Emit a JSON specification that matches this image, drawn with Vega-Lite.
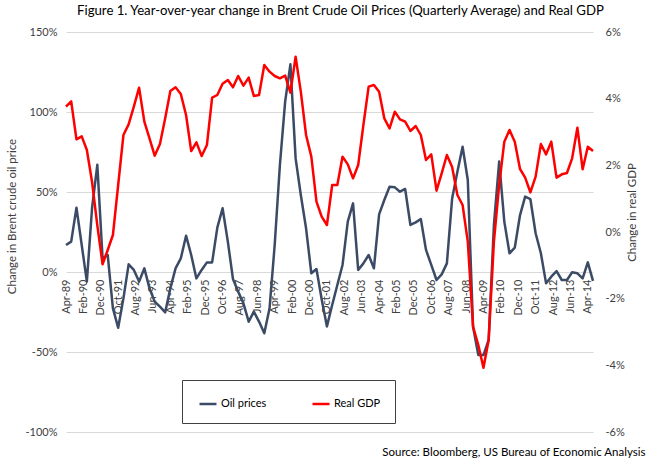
{
  "$schema": "https://vega.github.io/schema/vega-lite/v6.json",
  "width": 527,
  "height": 400,
  "autosize": "none",
  "padding": {"left": 66, "top": 32, "right": 55, "bottom": 26},
  "background": "white",
  "title": {
    "text": "Figure 1. Year-over-year change in Brent Crude Oil Prices (Quarterly Average) and Real GDP",
    "font": "Lato",
    "fontSize": 13.2,
    "fontWeight": "normal",
    "color": "#000000",
    "anchor": "middle",
    "offset": 8,
    "dx": 11
  },
  "config": {
    "view": {"stroke": null},
    "font": "Lato"
  },
  "data": {
    "values": [
      {"date": "1989/04/01", "oil": 16.9, "gdp": 3.76},
      {"date": "1989/07/01", "oil": 19, "gdp": 3.92},
      {"date": "1989/10/01", "oil": 40.2, "gdp": 2.78},
      {"date": "1990/01/01", "oil": 16.9, "gdp": 2.87},
      {"date": "1990/04/01", "oil": -6, "gdp": 2.46},
      {"date": "1990/07/01", "oil": 40, "gdp": 1.5},
      {"date": "1990/10/01", "oil": 67, "gdp": 0.2},
      {"date": "1991/01/01", "oil": 8.5, "gdp": -0.97},
      {"date": "1991/04/01", "oil": 10.6, "gdp": -0.54},
      {"date": "1991/07/01", "oil": -22.7, "gdp": -0.09},
      {"date": "1991/10/01", "oil": -34.8, "gdp": 1.41},
      {"date": "1992/01/01", "oil": -16.5, "gdp": 2.91},
      {"date": "1992/04/01", "oil": 4.8, "gdp": 3.23},
      {"date": "1992/07/01", "oil": 1.3, "gdp": 3.76},
      {"date": "1992/10/01", "oil": -6, "gdp": 4.33},
      {"date": "1993/01/01", "oil": 2.3, "gdp": 3.31},
      {"date": "1993/04/01", "oil": -10.2, "gdp": 2.81},
      {"date": "1993/07/01", "oil": -18.5, "gdp": 2.29},
      {"date": "1993/10/01", "oil": -21.7, "gdp": 2.64},
      {"date": "1994/01/01", "oil": -25.2, "gdp": 3.41},
      {"date": "1994/04/01", "oil": -10.2, "gdp": 4.23},
      {"date": "1994/07/01", "oil": 2.3, "gdp": 4.34},
      {"date": "1994/10/01", "oil": 8.5, "gdp": 4.14},
      {"date": "1995/01/01", "oil": 22.7, "gdp": 3.51},
      {"date": "1995/04/01", "oil": 10.6, "gdp": 2.43},
      {"date": "1995/07/01", "oil": -4, "gdp": 2.69},
      {"date": "1995/10/01", "oil": 1.3, "gdp": 2.28},
      {"date": "1996/01/01", "oil": 6, "gdp": 2.61},
      {"date": "1996/04/01", "oil": 6, "gdp": 4.03},
      {"date": "1996/07/01", "oil": 27.7, "gdp": 4.11},
      {"date": "1996/10/01", "oil": 39.8, "gdp": 4.45},
      {"date": "1997/01/01", "oil": 19, "gdp": 4.56},
      {"date": "1997/04/01", "oil": -4.4, "gdp": 4.34},
      {"date": "1997/07/01", "oil": -12.3, "gdp": 4.68},
      {"date": "1997/10/01", "oil": -19.6, "gdp": 4.39},
      {"date": "1998/01/01", "oil": -31, "gdp": 4.63},
      {"date": "1998/04/01", "oil": -24.8, "gdp": 4.08},
      {"date": "1998/07/01", "oil": -31, "gdp": 4.11},
      {"date": "1998/10/01", "oil": -38.3, "gdp": 5.01},
      {"date": "1999/01/01", "oil": -22.7, "gdp": 4.81},
      {"date": "1999/04/01", "oil": 16.9, "gdp": 4.68},
      {"date": "1999/07/01", "oil": 66.9, "gdp": 4.61},
      {"date": "1999/10/01", "oil": 106.5, "gdp": 4.69},
      {"date": "2000/01/01", "oil": 129.8, "gdp": 4.18},
      {"date": "2000/04/01", "oil": 71, "gdp": 5.26},
      {"date": "2000/07/01", "oil": 48.1, "gdp": 4.21},
      {"date": "2000/10/01", "oil": 27.3, "gdp": 2.91},
      {"date": "2001/01/01", "oil": -0.8, "gdp": 2.26},
      {"date": "2001/04/01", "oil": 1.9, "gdp": 0.91},
      {"date": "2001/07/01", "oil": -17, "gdp": 0.46},
      {"date": "2001/10/01", "oil": -34, "gdp": 0.21},
      {"date": "2002/01/01", "oil": -20.6, "gdp": 1.41},
      {"date": "2002/04/01", "oil": -8.1, "gdp": 1.41},
      {"date": "2002/07/01", "oil": 4.4, "gdp": 2.26},
      {"date": "2002/10/01", "oil": 31.5, "gdp": 2.03},
      {"date": "2003/01/01", "oil": 42.9, "gdp": 1.61},
      {"date": "2003/04/01", "oil": 1.3, "gdp": 2.01},
      {"date": "2003/07/01", "oil": 5.4, "gdp": 3.21},
      {"date": "2003/10/01", "oil": 10.6, "gdp": 4.36},
      {"date": "2004/01/01", "oil": 2.3, "gdp": 4.41},
      {"date": "2004/04/01", "oil": 36, "gdp": 4.21},
      {"date": "2004/07/01", "oil": 45, "gdp": 3.41},
      {"date": "2004/10/01", "oil": 53.3, "gdp": 3.11},
      {"date": "2005/01/01", "oil": 52.9, "gdp": 3.61},
      {"date": "2005/04/01", "oil": 50.2, "gdp": 3.38},
      {"date": "2005/07/01", "oil": 51.9, "gdp": 3.31},
      {"date": "2005/10/01", "oil": 29.4, "gdp": 3.03},
      {"date": "2006/01/01", "oil": 31, "gdp": 3.18},
      {"date": "2006/04/01", "oil": 33.1, "gdp": 2.91},
      {"date": "2006/07/01", "oil": 13.8, "gdp": 2.16},
      {"date": "2006/10/01", "oil": 4.4, "gdp": 2.33},
      {"date": "2007/01/01", "oil": -5, "gdp": 1.24},
      {"date": "2007/04/01", "oil": -1.5, "gdp": 1.76},
      {"date": "2007/07/01", "oil": 5.4, "gdp": 2.31},
      {"date": "2007/10/01", "oil": 46, "gdp": 1.95},
      {"date": "2008/01/01", "oil": 62.7, "gdp": 1.11},
      {"date": "2008/04/01", "oil": 78.3, "gdp": 0.81},
      {"date": "2008/07/01", "oil": 57.5, "gdp": -0.29},
      {"date": "2008/10/01", "oil": -34.2, "gdp": -2.84},
      {"date": "2009/01/01", "oil": -51.9, "gdp": -3.39},
      {"date": "2009/04/01", "oil": -51.9, "gdp": -4.07},
      {"date": "2009/07/01", "oil": -42.5, "gdp": -3.24},
      {"date": "2009/10/01", "oil": 29.4, "gdp": -0.29},
      {"date": "2010/01/01", "oil": 69, "gdp": 1.41},
      {"date": "2010/04/01", "oil": 31.5, "gdp": 2.71},
      {"date": "2010/07/01", "oil": 11.7, "gdp": 3.06},
      {"date": "2010/10/01", "oil": 15.2, "gdp": 2.71},
      {"date": "2011/01/01", "oil": 35.6, "gdp": 1.89},
      {"date": "2011/04/01", "oil": 47.1, "gdp": 1.63},
      {"date": "2011/07/01", "oil": 45.6, "gdp": 1.19},
      {"date": "2011/10/01", "oil": 24.2, "gdp": 1.66},
      {"date": "2012/01/01", "oil": 11.7, "gdp": 2.64},
      {"date": "2012/04/01", "oil": -7.1, "gdp": 2.33},
      {"date": "2012/07/01", "oil": -2.9, "gdp": 2.71},
      {"date": "2012/10/01", "oil": 0.6, "gdp": 1.63},
      {"date": "2013/01/01", "oil": -5, "gdp": 1.73},
      {"date": "2013/04/01", "oil": -5, "gdp": 1.77},
      {"date": "2013/07/01", "oil": -0.2, "gdp": 2.21},
      {"date": "2013/10/01", "oil": -0.8, "gdp": 3.13},
      {"date": "2014/01/01", "oil": -4, "gdp": 1.88},
      {"date": "2014/04/01", "oil": 6, "gdp": 2.56},
      {"date": "2014/07/01", "oil": -5.6, "gdp": 2.43}
    ]
  },
  "encoding": {
    "x": {
      "field": "date",
      "type": "temporal",
      "scale": {
        "domain": [{"year": 1989, "month": 4, "date": 1}, {"year": 2014, "month": 7, "date": 1}],
        "nice": false
      },
      "axis": {
        "values": [
          {"year": 1989, "month": 4, "date": 1}, {"year": 1990, "month": 2, "date": 1},
          {"year": 1990, "month": 12, "date": 1}, {"year": 1991, "month": 10, "date": 1},
          {"year": 1992, "month": 8, "date": 1}, {"year": 1993, "month": 6, "date": 1},
          {"year": 1994, "month": 4, "date": 1}, {"year": 1995, "month": 2, "date": 1},
          {"year": 1995, "month": 12, "date": 1}, {"year": 1996, "month": 10, "date": 1},
          {"year": 1997, "month": 8, "date": 1}, {"year": 1998, "month": 6, "date": 1},
          {"year": 1999, "month": 4, "date": 1}, {"year": 2000, "month": 2, "date": 1},
          {"year": 2000, "month": 12, "date": 1}, {"year": 2001, "month": 10, "date": 1},
          {"year": 2002, "month": 8, "date": 1}, {"year": 2003, "month": 6, "date": 1},
          {"year": 2004, "month": 4, "date": 1}, {"year": 2005, "month": 2, "date": 1},
          {"year": 2005, "month": 12, "date": 1}, {"year": 2006, "month": 10, "date": 1},
          {"year": 2007, "month": 8, "date": 1}, {"year": 2008, "month": 6, "date": 1},
          {"year": 2009, "month": 4, "date": 1}, {"year": 2010, "month": 2, "date": 1},
          {"year": 2010, "month": 12, "date": 1}, {"year": 2011, "month": 10, "date": 1},
          {"year": 2012, "month": 8, "date": 1}, {"year": 2013, "month": 6, "date": 1},
          {"year": 2014, "month": 4, "date": 1}
        ],
        "format": "%b-%y",
        "labelAngle": -90,
        "offset": -160,
        "domain": false,
        "ticks": false,
        "grid": false,
        "labelPadding": 7,
        "labelFontSize": 11,
        "labelColor": "#404040",
        "labelFont": "Lato",
        "labelOverlap": false,
        "title": "Source: Bloomberg, US Bureau of Economic Analysis",
        "titleX": 579,
        "titleY": 183,
        "titleAlign": "right",
        "titleAnchor": null,
        "titleBaseline": "alphabetic",
        "titleAngle": 0,
        "titleFont": "Lato",
        "titleFontSize": 11.5,
        "titleFontWeight": "normal",
        "titleColor": "#000000"
      }
    }
  },
  "layer": [
    {
      "mark": {"type": "line", "strokeWidth": 2.5, "strokeJoin": "round"},
      "encoding": {
        "y": {
          "field": "oil",
          "type": "quantitative",
          "scale": {"domain": [-100, 150], "nice": false, "zero": false},
          "axis": {
            "values": [-100, -50, 0, 50, 100, 150],
            "labelExpr": "datum.value + '%'",
            "grid": true,
            "gridColor": "#D9D9D9",
            "gridWidth": 1,
            "domain": false,
            "ticks": false,
            "labelPadding": 9,
            "labelFontSize": 11,
            "labelColor": "#404040",
            "labelFont": "Lato",
            "title": "Change in Brent crude oil price",
            "titleFont": "Lato",
            "titleFontSize": 11.5,
            "titleFontWeight": "normal",
            "titleColor": "#404040",
            "titleX": -54,
            "titleY": 184,
            "titleAngle": 270,
            "titleAlign": "center",
            "titleBaseline": "middle"
          }
        },
        "color": {
          "datum": "Oil prices",
          "type": "nominal",
          "scale": {"domain": ["Oil prices", "Real GDP"], "range": ["#3B4B66", "#FF0000"]},
          "legend": {
            "orient": "none",
            "legendX": 116,
            "legendY": 348,
            "direction": "horizontal",
            "title": "\u00a0\u00a0\u00a0\u00a0\u00a0\u00a0\u00a0\u00a0\u00a0\u00a0\u00a0\u00a0",
            "titleOrient": "left",
            "titlePadding": 2,
            "titleFont": "Lato",
            "titleFontSize": 11,
            "strokeColor": "#404040",
            "fillColor": "#FFFFFF",
            "padding": 14,
            "symbolType": "stroke",
            "symbolStrokeWidth": 2.5,
            "symbolSize": 289,
            "labelFont": "Lato",
            "labelFontSize": 11,
            "labelColor": "#000000",
            "labelOffset": 3,
            "labelExpr": "datum.label == 'Real GDP' ? datum.label + '\u00a0\u00a0\u00a0\u00a0\u00a0\u00a0\u00a0\u00a0\u00a0\u00a0\u00a0' : datum.label",
            "columnPadding": 40
          }
        }
      }
    },
    {
      "mark": {"type": "line", "strokeWidth": 2.5, "strokeJoin": "round"},
      "encoding": {
        "y": {
          "field": "gdp",
          "type": "quantitative",
          "scale": {"domain": [-6, 6], "nice": false, "zero": false},
          "axis": {
            "orient": "right",
            "values": [-6, -4, -2, 0, 2, 4, 6],
            "labelExpr": "datum.value + '%'",
            "grid": false,
            "domain": false,
            "ticks": false,
            "labelPadding": 12,
            "labelFontSize": 11,
            "labelColor": "#404040",
            "labelFont": "Lato",
            "title": "Change in real GDP",
            "titleFont": "Lato",
            "titleFontSize": 11.5,
            "titleFontWeight": "normal",
            "titleColor": "#404040",
            "titleX": 39,
            "titleY": 180,
            "titleAngle": 270,
            "titleAlign": "center",
            "titleBaseline": "middle"
          }
        },
        "color": {"datum": "Real GDP", "type": "nominal"}
      }
    }
  ],
  "resolve": {"scale": {"y": "independent"}}
}
